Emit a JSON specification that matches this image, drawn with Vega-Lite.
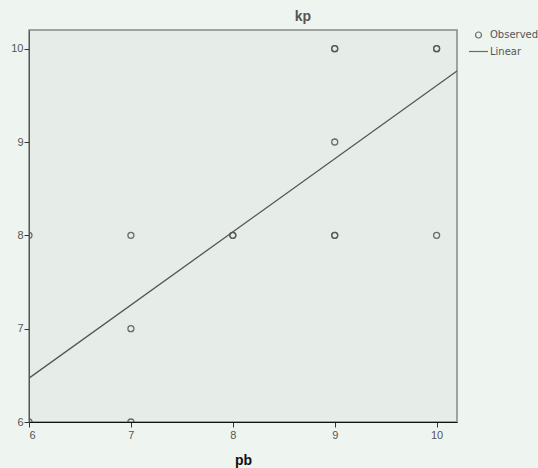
{
  "$schema": "https://vega.github.io/schema/vega-lite/v6.json",
  "autosize": {"type": "none"},
  "padding": {"left": 29, "top": 30, "right": 81, "bottom": 46},
  "width": 428,
  "height": 392,
  "background": "#eef4f0",
  "title": {"text": "kp", "fontSize": 14, "font": "Liberation Sans", "fontWeight": "bold", "color": "#555555", "dx": 60, "offset": 6},
  "config": {
    "view": {"fill": "#e6ece8", "stroke": "#888888", "strokeWidth": 1.5},
    "axis": {"grid": false, "labelFont": "Liberation Sans", "labelFontSize": 11, "labelColor": "#555555", "tickSize": 5, "tickColor": "#333333", "titleFont": "Liberation Sans", "format": "d"}
  },
  "datasets": {
    "observed": [
      {"pb": 6, "kp": 8, "series": "Observed"},
      {"pb": 6, "kp": 6, "series": "Observed"},
      {"pb": 7, "kp": 8, "series": "Observed"},
      {"pb": 7, "kp": 7, "series": "Observed"},
      {"pb": 7, "kp": 6, "series": "Observed"},
      {"pb": 8, "kp": 8, "series": "Observed"},
      {"pb": 8, "kp": 8, "series": "Observed"},
      {"pb": 9, "kp": 10, "series": "Observed"},
      {"pb": 9, "kp": 10, "series": "Observed"},
      {"pb": 9, "kp": 9, "series": "Observed"},
      {"pb": 9, "kp": 8, "series": "Observed"},
      {"pb": 9, "kp": 8, "series": "Observed"},
      {"pb": 10, "kp": 10, "series": "Observed"},
      {"pb": 10, "kp": 10, "series": "Observed"},
      {"pb": 10, "kp": 8, "series": "Observed"}
    ],
    "linear": [
      {"pb": 6, "kp": 6.47, "series": "Linear"},
      {"pb": 10.2, "kp": 9.76, "series": "Linear"}
    ]
  },
  "layer": [
    {
      "data": {"name": "linear"},
      "mark": {"type": "line", "color": "#555555", "strokeWidth": 1.3, "clip": true},
      "encoding": {
        "x": {"field": "pb", "type": "quantitative"},
        "y": {"field": "kp", "type": "quantitative"}
      }
    },
    {
      "data": {"name": "observed"},
      "mark": {"type": "point", "filled": false, "color": "#555555", "strokeWidth": 1.3, "clip": true, "opacity": 0.85},
      "encoding": {
        "x": {
          "field": "pb", "type": "quantitative",
          "scale": {"domain": [6, 10.2], "nice": false, "zero": false},
          "axis": {"values": [6, 7, 8, 9, 10], "title": "pb", "titleFontSize": 14, "titleFontWeight": "bold", "titleColor": "#111111", "titlePadding": 13, "domainColor": "#111111", "labelPadding": 2}
        },
        "y": {
          "field": "kp", "type": "quantitative",
          "scale": {"domain": [6, 10.2], "nice": false, "zero": false},
          "axis": {"values": [6, 7, 8, 9, 10], "title": null, "domainColor": "#555555", "labelPadding": 1}
        },
        "size": {
          "field": "series", "type": "nominal",
          "scale": {"domain": ["Observed", "Linear"], "range": [36, 361]}
        },
        "shape": {
          "field": "series", "type": "nominal",
          "scale": {"domain": ["Observed", "Linear"], "range": ["circle", "stroke"]},
          "legend": {
            "title": null, "orient": "right", "offset": 11,
            "labelFont": "DejaVu Sans", "labelFontSize": 10, "labelColor": "#555555",
            "symbolStrokeColor": "#555555", "symbolStrokeWidth": 1.2,
            "rowPadding": -6, "labelOffset": 1, "padding": 0, "symbolOffset": 0
          }
        }
      }
    }
  ]
}
